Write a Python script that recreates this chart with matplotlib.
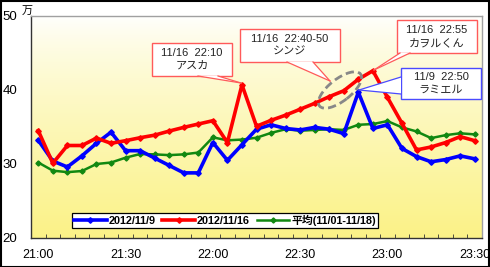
import numpy as np
import matplotlib
matplotlib.use("Agg")
import matplotlib.pyplot as plt
from matplotlib.patches import Ellipse, Rectangle, Polygon
from matplotlib.transforms import IdentityTransform

plt.rcParams['font.family'] = ['Liberation Sans', 'Noto Sans CJK JP', 'DejaVu Sans']

# ---- data ----
times = [f"{21 + (m // 60)}:{m % 60:02d}" for m in range(0, 151, 5)]
tick_labels = ["21:00", "21:30", "22:00", "22:30", "23:00", "23:30"]
series_names = ["2012/11/9", "2012/11/16", "平均(11/01-11/18)"]
blue = [33.2, 30.4, 29.6, 31.1, 32.8, 34.3, 31.8, 31.8, 30.8, 29.8, 28.8, 28.8, 32.9, 30.5, 32.6,
        34.7, 35.3, 34.8, 34.6, 34.95, 34.7, 34.1, 39.7, 34.8, 35.3, 32.1, 31.0, 30.3, 30.6, 31.1, 30.7]
red = [34.5, 30.1, 32.5, 32.5, 33.5, 32.8, 33.15, 33.55, 33.9, 34.45, 34.95, 35.4, 35.85, 32.9, 40.7,
       35.1, 35.9, 36.6, 37.4, 38.2, 39.1, 39.9, 41.45, 42.6, 39.0, 35.5, 31.9, 32.3, 32.9, 33.7, 33.15]
green = [30.2, 29.1, 28.9, 29.05, 30.0, 30.2, 30.85, 31.35, 31.3, 31.2, 31.3, 31.55, 33.6, 33.2, 33.3,
         33.55, 34.2, 34.7, 34.5, 34.6, 34.7, 34.6, 35.3, 35.4, 35.8, 34.95, 34.4, 33.5, 33.9, 34.15, 34.0]
callouts = [
    ("11/16  22:10\nアスカ", "#ff5a5a"),
    ("11/16  22:40-50\nシンジ", "#ff5a5a"),
    ("11/16  22:55\nカヲルくん", "#ff5a5a"),
    ("11/9  22:50\nラミエル", "#4a4aff"),
]

W, H = 490, 267
fig = plt.figure(figsize=(W / 100, H / 100), dpi=100)
fig.patch.set_facecolor("white")

def px2fig(x0, y0, x1, y1):
    return [x0 / W, 1 - y1 / H, (x1 - x0) / W, (y1 - y0) / H]

ax = fig.add_axes(px2fig(31, 16, 482, 238))
x = np.arange(len(times))
ax.set_xlim(-0.5, len(times) - 0.5)
ax.set_ylim(20, 50)

# gradient background
grad = np.linspace(0, 1, 256)[:, None]
top = np.array([1.0, 1.0, 1.0])
bot = np.array([251, 242, 135]) / 255
g = grad ** 0.75
img = top[None, None, :] * (1 - g[..., None]) + bot[None, None, :] * g[..., None]
img = np.repeat(img, 2, axis=1)
ax.imshow(img, extent=[-0.5, len(times) - 0.5, 20, 50], aspect="auto", zorder=0, origin="upper")

ax.plot(x, blue, color="#0000ff", lw=2.6, marker="D", ms=2.8, zorder=4, label=series_names[0])
ax.plot(x, red, color="#ff0000", lw=2.6, marker="D", ms=2.8, zorder=5, label=series_names[1])
ax.plot(x, green, color="#118811", lw=1.8, marker="D", ms=2.6, zorder=3, label=series_names[2])

# axes styling
for s in ["left", "bottom"]:
    ax.spines[s].set_color("#333333")
    ax.spines[s].set_linewidth(1.0)
for s in ["top", "right"]:
    ax.spines[s].set_color("#a0a0a0")
    ax.spines[s].set_linewidth(1.0)
ax.set_yticks([20, 30, 40, 50])
ax.tick_params(axis="y", length=0, pad=10, labelsize=9.5)
ax.set_xticks([times.index(t) for t in tick_labels])
ax.set_xticklabels(tick_labels)
ax.set_xticks(np.arange(-0.5, len(times), 1), minor=True)
ax.tick_params(axis="x", which="major", length=0, pad=8, labelsize=9)
ax.tick_params(axis="x", which="minor", direction="in", length=3, color="#333333")
fig.text(22 / W, 1 - 11 / H, "万", fontsize=8, family=["Noto Sans CJK JP"], va="center", ha="left")

# legend
leg = ax.legend(loc="lower left", bbox_to_anchor=((72 - 31) / 451, (238 - 228) / 222), ncol=3,
                frameon=True, fancybox=False, edgecolor="black", framealpha=1,
                prop={"size": 7.8, "weight": "bold"}, handlelength=3.0, handletextpad=0.2,
                columnspacing=0.6, borderpad=0.2, borderaxespad=0)
leg.get_frame().set_linewidth(0.9)
leg.set_zorder(10)

# callouts in pixel coordinates (layout)
def P(px, py):
    return (px, H - py)

def callout(box, base, tip, text, color):
    x0, y0, x1, y1 = box
    r = Rectangle(P(x0, y1), x1 - x0, y1 - y0, transform=IdentityTransform(), facecolor="white",
                  edgecolor=color, lw=1.0, zorder=20)
    fig.patches.append(r)
    wedge = Polygon([P(*base[0]), P(*base[1]), P(*tip)], closed=True, transform=IdentityTransform(),
                    facecolor="white", edgecolor="none", zorder=21)
    fig.patches.append(wedge)
    for b in base:
        fig.lines.append(plt.Line2D([b[0], tip[0]], [H - b[1], H - tip[1]], transform=IdentityTransform(),
                                    color=color, lw=0.9, zorder=22))
    fig.text((x0 + x1) / 2 / W, 1 - (y0 + y1) / 2 / H, text, ha="center", va="center", fontsize=8,
             linespacing=1.35, zorder=23, color="#222222")

ellipse = Ellipse(P(340, 90), 52, 22, angle=38, transform=IdentityTransform(), facecolor="none",
                  edgecolor="#888888", lw=2.0, ls=(0, (3, 1.5)), zorder=19)
fig.patches.append(ellipse)

callout((152, 43, 232, 76), [(198, 76), (218, 76)], (241, 83), *callouts[0])
callout((240, 29, 340, 62), [(287, 62), (313, 62)], (330, 81), *callouts[1])
callout((397, 20, 477, 53), [(400, 53), (410, 53)], (374, 70), *callouts[2])
callout((401, 68, 481, 99), [(401, 77), (401, 94)], (359, 90), *callouts[3])

# figure frame
fig.patches.append(Rectangle((0.5, 0.5), W - 1.5, H - 1.5, transform=IdentityTransform(),
                             facecolor="none", edgecolor="black", lw=1.5, zorder=30))

fig.savefig("out.png", dpi=100)
